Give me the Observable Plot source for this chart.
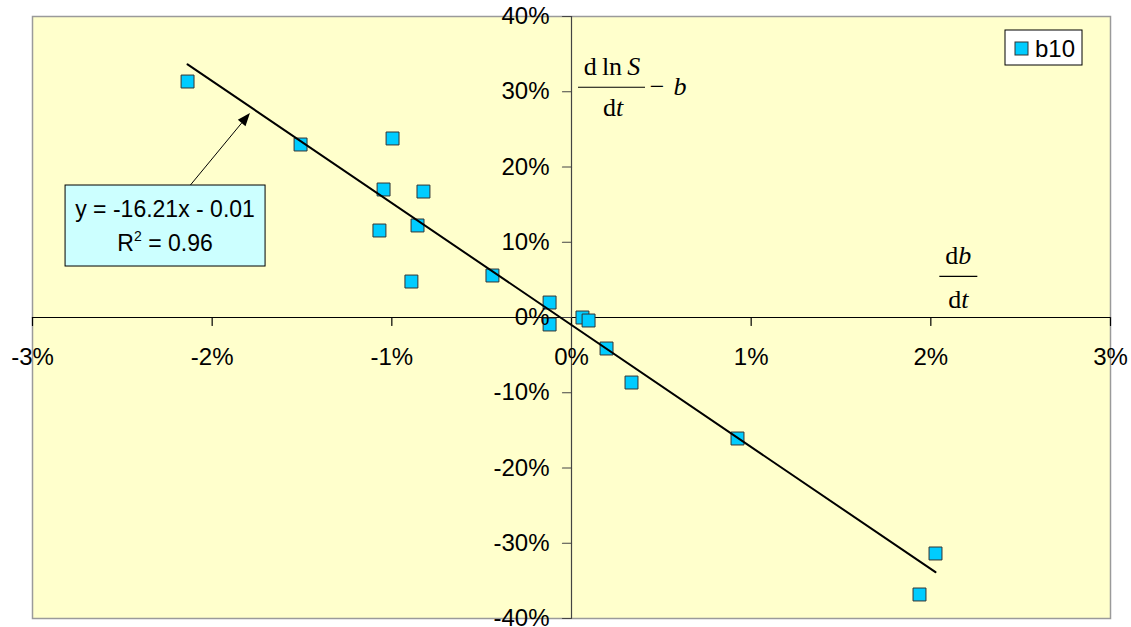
<!DOCTYPE html>
<html><head><meta charset="utf-8">
<script src="https://cdn.jsdelivr.net/npm/d3@7"></script>
<script src="https://cdn.jsdelivr.net/npm/@observablehq/plot@0.6"></script>
<style>
html,body{margin:0;padding:0;background:#fff;}
#chart svg{display:block;overflow:visible;}
</style></head><body><div id="chart"></div>
<script>
// ---- data ----
const seriesName = "b10";
const xValues = [-0.02137, -0.01508, -0.00996, -0.01046, -0.00824, -0.01069, -0.00857, -0.00891, -0.00440, -0.00122, -0.00122, 0.00061, 0.00095, 0.00195, 0.00334, 0.00924, 0.02026, 0.01937];
const yValues = [0.3136, 0.2299, 0.2379, 0.1701, 0.1674, 0.1156, 0.1223, 0.0478, 0.0558, 0.0199, -0.0093, 0.0000, -0.0040, -0.0412, -0.0864, -0.1608, -0.3136, -0.3681];
const xTicks = [-0.03, -0.02, -0.01, 0, 0.01, 0.02, 0.03];
const yTicks = [-0.4, -0.3, -0.2, -0.1, 0, 0.1, 0.2, 0.3, 0.4];
const trendSlope = -16.21;
const trendIntercept = -0.01;
const rSquared = 0.96;

// ---- derived ----
const points = xValues.map((x, i) => ({x, y: yValues[i]}));
const [xmin, xmax] = d3.extent(xValues);
const trend = [xmin, xmax].map(x => ({x, y: trendSlope * x + trendIntercept}));
const pct = d => `${Math.round(d * 100)}%`;
const tickLine = {draw(ctx, l) { ctx.moveTo(0, 0); ctx.lineTo(0, -l); }};
const sans = "'Liberation Sans', Arial, sans-serif";
const serif = "'Liberation Serif', 'Times New Roman', serif";

const chart = Plot.plot({
  width: 1131, height: 627,
  marginLeft: 32, marginRight: 21, marginTop: 16, marginBottom: 9,
  x: {domain: [-0.03, 0.03], axis: null},
  y: {domain: [-0.4, 0.4], axis: null},
  style: {fontFamily: sans, background: "#fff", overflow: "visible"},
  marks: [
    Plot.frame({fill: "#FFFFCC", stroke: "#9a9a9a", strokeWidth: 1.5}),
    Plot.ruleX([0], {stroke: "#444", strokeWidth: 1.2}),
    Plot.ruleY([0], {stroke: "#000", strokeWidth: 1.2}),
    Plot.vector(xTicks, {x: d => d, y: () => 0, length: 8, rotate: 180, anchor: "start", shape: tickLine, stroke: "#000", strokeWidth: 1.2}),
    Plot.vector(yTicks, {x: () => 0, y: d => d, length: 9, rotate: 270, anchor: "start", shape: tickLine, stroke: "#444", strokeWidth: 1.2}),
    Plot.dot(points, {x: "x", y: "y", symbol: "square", r: 7.3, fill: "#00CCFF", stroke: "#333", strokeWidth: 1}),
    Plot.line(trend, {x: "x", y: "y", stroke: "#000", strokeWidth: 2}),
    Plot.text(xTicks, {x: d => d, y: () => 0, text: pct, dy: 40, fontSize: 24, fill: "#000"}),
    Plot.text(yTicks, {x: () => 0, y: d => d, text: pct, dx: -22, textAnchor: "end", fontSize: 24, fill: "#000"})
  ]
});
document.getElementById("chart").append(chart);

// ---- annotations positioned through the plot's scales ----
const sx = chart.scale("x"), sy = chart.scale("y");
const svg = d3.select(chart);
const g = svg.append("g").attr("text-anchor", "start");

// arrow from equation box to trend line
const arrowTail = {x: -0.02132, y: 0.1714};
const arrowTip = {x: -0.01787, y: 0.2711};
{
  const x1 = sx.apply(arrowTail.x), y1 = sy.apply(arrowTail.y);
  const x2 = sx.apply(arrowTip.x), y2 = sy.apply(arrowTip.y);
  const ang = Math.atan2(y2 - y1, x2 - x1);
  const L = 13, W = 5;
  const bx = x2 - L * Math.cos(ang), by = y2 - L * Math.sin(ang);
  g.append("line").attr("x1", x1).attr("y1", y1).attr("x2", bx).attr("y2", by).attr("stroke", "#000").attr("stroke-width", 1);
  g.append("path").attr("d", `M${x2},${y2}L${bx + W * Math.sin(ang)},${by - W * Math.cos(ang)}L${bx - W * Math.sin(ang)},${by + W * Math.cos(ang)}Z`).attr("fill", "#000");
}

// equation box
const boxAnchor = {x: -0.02816, y: 0.1754};
{
  const bx = sx.apply(boxAnchor.x), by = sy.apply(boxAnchor.y);
  g.append("rect").attr("x", bx).attr("y", by).attr("width", 200).attr("height", 81)
    .attr("fill", "#CCFFFF").attr("stroke", "#000").attr("stroke-width", 1);
  g.append("text").attr("x", bx + 100).attr("y", by + 24).attr("dy", "0.35em")
    .attr("text-anchor", "middle").attr("font-family", sans).attr("font-size", 23)
    .text(`y = ${trendSlope.toFixed(2)}x ${trendIntercept < 0 ? "-" : "+"} ${Math.abs(trendIntercept).toFixed(2)}`);
  const t2 = g.append("text").attr("x", bx + 100).attr("y", by + 58).attr("dy", "0.35em")
    .attr("text-anchor", "middle").attr("font-family", sans).attr("font-size", 23);
  t2.append("tspan").text("R");
  t2.append("tspan").attr("font-size", 14).attr("dy", "-0.75em").text("2");
  t2.append("tspan").attr("dy", "0.45em").text(` = ${rSquared.toFixed(2)}`);
}

// y-axis label: d ln S / dt − b
const yLabelAnchor = {x: 0, y: 0.30};
{
  const ax = sx.apply(yLabelAnchor.x), ay = sy.apply(yLabelAnchor.y);
  const f = (x, y) => g.append("text").attr("x", ax + x).attr("y", ay + y).attr("dy", "0.35em")
    .attr("font-family", serif).attr("font-size", 26).attr("fill", "#000");
  const num = f(41, -25).attr("text-anchor", "middle");
  num.append("tspan").text("d\u2009ln\u2009");
  num.append("tspan").attr("font-style", "italic").text("S");
  g.append("line").attr("x1", ax + 7).attr("x2", ax + 74).attr("y1", ay - 4).attr("y2", ay - 4).attr("stroke", "#000").attr("stroke-width", 1.2);
  const den = f(42, 16).attr("text-anchor", "middle");
  den.append("tspan").text("d");
  den.append("tspan").attr("font-style", "italic").text("t");
  f(86, -5).attr("text-anchor", "middle").text("\u2212");
  f(109, -5).attr("text-anchor", "middle").attr("font-style", "italic").text("b");
}

// x-axis label: db / dt
const xLabelAnchor = {x: 0.02, y: 0.05};
{
  const ax = sx.apply(xLabelAnchor.x), ay = sy.apply(xLabelAnchor.y);
  const f = (x, y) => g.append("text").attr("x", ax + x).attr("y", ay + y).attr("dy", "0.35em")
    .attr("font-family", serif).attr("font-size", 26).attr("fill", "#000").attr("text-anchor", "middle");
  const num = f(28, -24);
  num.append("tspan").text("d");
  num.append("tspan").attr("font-style", "italic").text("b");
  g.append("line").attr("x1", ax + 9).attr("x2", ax + 47).attr("y1", ay - 3).attr("y2", ay - 3).attr("stroke", "#000").attr("stroke-width", 1.2);
  const den = f(28, 20);
  den.append("tspan").text("d");
  den.append("tspan").attr("font-style", "italic").text("t");
}

// legend (top-right inside the frame)
{
  const right = 1131 - 21, top = 16;
  const lx = right - 105, ly = top + 14;
  g.append("rect").attr("x", lx).attr("y", ly).attr("width", 77).attr("height", 35)
    .attr("fill", "#fff").attr("stroke", "#000").attr("stroke-width", 1);
  g.append("rect").attr("x", lx + 10).attr("y", ly + 12).attr("width", 13).attr("height", 13)
    .attr("fill", "#00CCFF").attr("stroke", "#333").attr("stroke-width", 1);
  g.append("text").attr("x", lx + 30).attr("y", ly + 18.5).attr("dy", "0.35em")
    .attr("text-anchor", "start").attr("font-family", sans).attr("font-size", 24).text(seriesName);
}
</script></body></html>
